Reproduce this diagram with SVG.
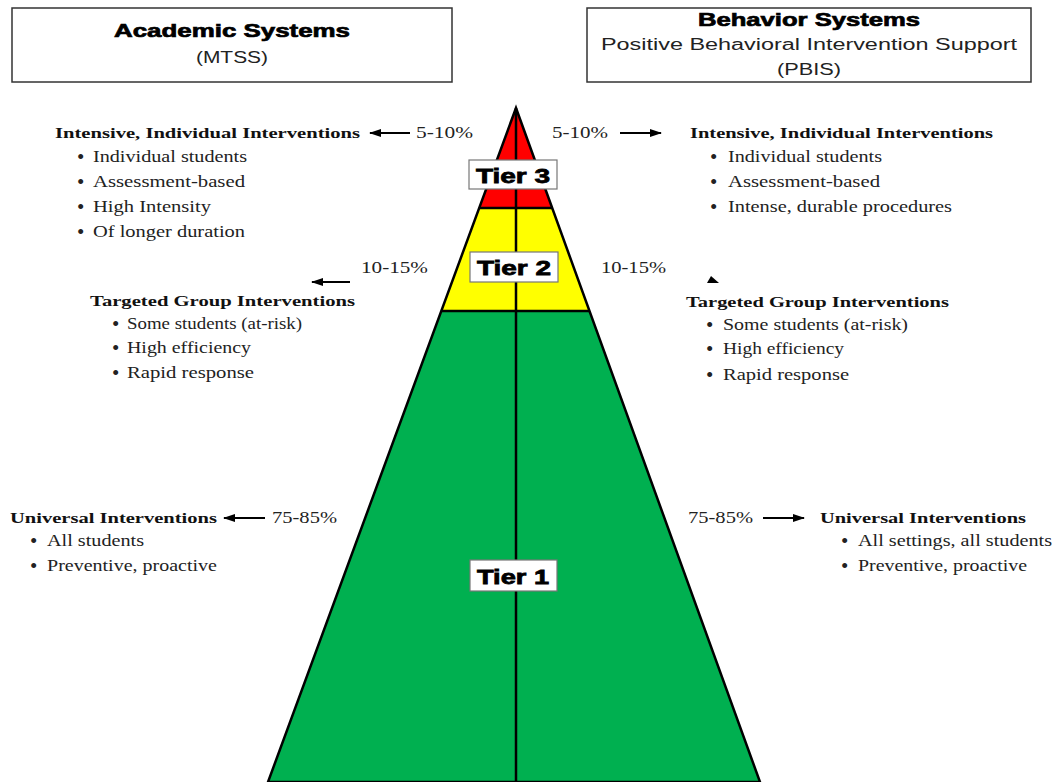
<svg xmlns="http://www.w3.org/2000/svg" width="1056" height="782" viewBox="0 0 1056 782">
<style>
.hdr{font-family:"Liberation Sans",Arial,sans-serif;font-weight:bold;font-size:19px;fill:#000;stroke:#000;stroke-width:0.7;text-anchor:middle}
.sub{font-family:"Liberation Sans",Arial,sans-serif;font-size:16px;fill:#222;text-anchor:middle}
.head{font-family:"Liberation Serif","Times New Roman",serif;font-weight:bold;font-size:15.5px;fill:#111}
.item{font-family:"Liberation Serif","Times New Roman",serif;font-size:16px;fill:#222}
.bul{font-family:"Liberation Serif","Times New Roman",serif;font-size:21px;fill:#222}
.pct{font-family:"Liberation Serif","Times New Roman",serif;font-size:16px;fill:#222}
.tier{font-family:"Liberation Sans",Arial,sans-serif;font-weight:bold;font-size:21px;fill:#000;stroke:#000;stroke-width:0.8;text-anchor:middle}
.box{fill:#fff;stroke:#333;stroke-width:1.5}
.tbox{fill:#fff;stroke:#777;stroke-width:1.2}
.arr{stroke:#000;stroke-width:2.2;fill:none;marker-end:url(#ah)}
.edge{stroke:#000;stroke-width:2.5;fill:none}
</style>
<defs>
<marker id="ah" viewBox="0 0 12 8" refX="11" refY="4" markerWidth="12" markerHeight="8" markerUnits="userSpaceOnUse" orient="auto">
<path d="M0,0 L12,4 L0,8 z" fill="#000"/>
</marker>
</defs>
<rect width="1056" height="782" fill="#fff"/>

<g id="academic-header">
<rect class="box" x="12" y="8" width="440" height="74"/>
<text class="hdr" x="232" y="37" textLength="236" lengthAdjust="spacingAndGlyphs">Academic Systems</text>
<text class="sub" x="232" y="63" textLength="72" lengthAdjust="spacingAndGlyphs">(MTSS)</text>
</g>

<g id="behavior-header">
<rect class="box" x="587" y="8" width="444" height="74"/>
<text class="hdr" x="809" y="26" textLength="222" lengthAdjust="spacingAndGlyphs">Behavior Systems</text>
<text class="sub" x="809" y="50" textLength="416" lengthAdjust="spacingAndGlyphs">Positive Behavioral Intervention Support</text>
<text class="sub" x="809" y="75" textLength="64" lengthAdjust="spacingAndGlyphs">(PBIS)</text>
</g>

<g id="pyramid">
<polygon points="516,108 479,208 552,208" fill="#FF0000"/>
<polygon points="479,208 552,208 589.5,311 441.3,311" fill="#FFFF00"/>
<polygon points="441.3,311 589.5,311 760,782 268,782" fill="#00B050"/>
<polygon class="edge" points="516,108 760,782 268,782"/>
<line class="edge" x1="479" y1="208" x2="552" y2="208"/>
<line class="edge" x1="441.3" y1="311" x2="589.5" y2="311"/>
<line class="edge" x1="516" y1="108" x2="516" y2="782"/>
</g>

<g id="tier3">
<rect class="tbox" x="469" y="160" width="88" height="29"/>
<text class="tier" x="513" y="183" textLength="74" lengthAdjust="spacingAndGlyphs">Tier 3</text>
</g>
<g id="tier2">
<rect class="tbox" x="470" y="252" width="88" height="30"/>
<text class="tier" x="514" y="275" textLength="74" lengthAdjust="spacingAndGlyphs">Tier 2</text>
</g>
<g id="tier1">
<rect class="tbox" x="470" y="560" width="87" height="31"/>
<text class="tier" x="513" y="584" textLength="72" lengthAdjust="spacingAndGlyphs">Tier 1</text>
</g>

<g id="connectors">
<line class="arr" x1="410" y1="133" x2="370" y2="133"/>
<line class="arr" x1="620" y1="133" x2="661" y2="133"/>
<line class="arr" x1="350" y1="282" x2="312" y2="282"/>
<polygon points="707,283 719,283 711,276" fill="#000"/>
<line class="arr" x1="265" y1="518" x2="224" y2="518"/>
<line class="arr" x1="763" y1="518" x2="804" y2="518"/>
</g>

<g id="left-tier3">
<text class="head" x="55" y="138" textLength="305" lengthAdjust="spacingAndGlyphs">Intensive, Individual Interventions</text>
<text class="pct" x="416" y="138" textLength="57" lengthAdjust="spacingAndGlyphs">5-10%</text>
<text class="bul" x="77" y="164">•</text><text class="item" x="93" y="162" textLength="154" lengthAdjust="spacingAndGlyphs">Individual students</text>
<text class="bul" x="77" y="189">•</text><text class="item" x="93" y="187" textLength="152" lengthAdjust="spacingAndGlyphs">Assessment-based</text>
<text class="bul" x="77" y="214">•</text><text class="item" x="93" y="212" textLength="118" lengthAdjust="spacingAndGlyphs">High Intensity</text>
<text class="bul" x="77" y="239">•</text><text class="item" x="93" y="237" textLength="152" lengthAdjust="spacingAndGlyphs">Of longer duration</text>
</g>

<g id="right-tier3">
<text class="pct" x="552" y="138" textLength="56" lengthAdjust="spacingAndGlyphs">5-10%</text>
<text class="head" x="690" y="138" textLength="303" lengthAdjust="spacingAndGlyphs">Intensive, Individual Interventions</text>
<text class="bul" x="710" y="164">•</text><text class="item" x="728" y="162" textLength="154" lengthAdjust="spacingAndGlyphs">Individual students</text>
<text class="bul" x="710" y="189">•</text><text class="item" x="728" y="187" textLength="152" lengthAdjust="spacingAndGlyphs">Assessment-based</text>
<text class="bul" x="710" y="214">•</text><text class="item" x="728" y="212" textLength="224" lengthAdjust="spacingAndGlyphs">Intense, durable procedures</text>
</g>

<g id="left-tier2">
<text class="pct" x="361" y="273" textLength="67" lengthAdjust="spacingAndGlyphs">10-15%</text>
<text class="head" x="90" y="306" textLength="265" lengthAdjust="spacingAndGlyphs">Targeted Group Interventions</text>
<text class="bul" x="112" y="331">•</text><text class="item" x="127" y="329" textLength="175" lengthAdjust="spacingAndGlyphs">Some students (at-risk)</text>
<text class="bul" x="112" y="355">•</text><text class="item" x="127" y="353" textLength="124" lengthAdjust="spacingAndGlyphs">High efficiency</text>
<text class="bul" x="112" y="380">•</text><text class="item" x="127" y="378" textLength="127" lengthAdjust="spacingAndGlyphs">Rapid response</text>
</g>

<g id="right-tier2">
<text class="pct" x="601" y="273" textLength="65" lengthAdjust="spacingAndGlyphs">10-15%</text>
<text class="head" x="686" y="307" textLength="263" lengthAdjust="spacingAndGlyphs">Targeted Group Interventions</text>
<text class="bul" x="706" y="332">•</text><text class="item" x="723" y="330" textLength="185" lengthAdjust="spacingAndGlyphs">Some students (at-risk)</text>
<text class="bul" x="706" y="356">•</text><text class="item" x="723" y="354" textLength="121" lengthAdjust="spacingAndGlyphs">High efficiency</text>
<text class="bul" x="706" y="382">•</text><text class="item" x="723" y="380" textLength="126" lengthAdjust="spacingAndGlyphs">Rapid response</text>
</g>

<g id="left-tier1">
<text class="head" x="10" y="523" textLength="207" lengthAdjust="spacingAndGlyphs">Universal Interventions</text>
<text class="pct" x="272" y="523" textLength="65" lengthAdjust="spacingAndGlyphs">75-85%</text>
<text class="bul" x="30" y="548">•</text><text class="item" x="47" y="546" textLength="97" lengthAdjust="spacingAndGlyphs">All students</text>
<text class="bul" x="30" y="573">•</text><text class="item" x="47" y="571" textLength="170" lengthAdjust="spacingAndGlyphs">Preventive, proactive</text>
</g>

<g id="right-tier1">
<text class="pct" x="688" y="523" textLength="65" lengthAdjust="spacingAndGlyphs">75-85%</text>
<text class="head" x="820" y="523" textLength="206" lengthAdjust="spacingAndGlyphs">Universal Interventions</text>
<text class="bul" x="841" y="548">•</text><text class="item" x="858" y="546" textLength="194" lengthAdjust="spacingAndGlyphs">All settings, all students</text>
<text class="bul" x="841" y="573">•</text><text class="item" x="858" y="571" textLength="169" lengthAdjust="spacingAndGlyphs">Preventive, proactive</text>
</g>
</svg>
